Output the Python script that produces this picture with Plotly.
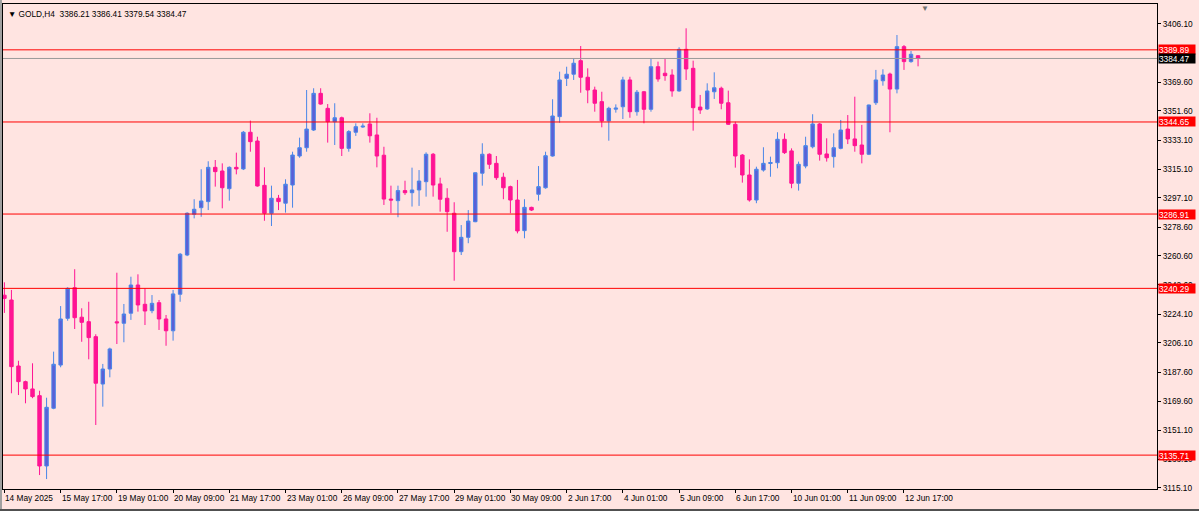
import plotly.graph_objects as go

# ---- data (GOLD, H4) ----
open_ = [3236.0, 3233.0, 3191.6, 3181.8, 3177.2, 3173.0, 3128.9, 3165.1, 3192.2, 3221.5,
         3240.7, 3222.2, 3219.4, 3210.0, 3180.3, 3189.7, 3219.3, 3218.4, 3224.7, 3242.4,
         3230.3, 3226.3, 3231.3, 3221.1, 3213.7, 3236.6, 3261.2, 3286.8, 3290.9, 3294.7,
         3316.2, 3313.9, 3302.8, 3316.2, 3315.2, 3338.2, 3332.7, 3304.9, 3287.4, 3296.8,
         3293.7, 3305.1, 3323.3, 3328.5, 3339.6, 3362.6, 3353.2, 3344.8, 3347.3, 3328.1,
         3338.2, 3341.5, 3343.4, 3336.5, 3323.8, 3296.3, 3295.3, 3301.6, 3300.3, 3302.0,
         3307.2, 3324.4, 3305.8, 3296.8, 3287.4, 3263.3, 3272.3, 3282.1, 3312.5, 3324.4,
         3318.7, 3310.0, 3304.1, 3295.7, 3276.5, 3291.1, 3299.3, 3303.4, 3323.3, 3348.0,
         3372.0, 3374.6, 3383.1, 3372.7, 3364.7, 3357.4, 3345.3, 3352.7, 3354.2, 3371.0,
         3351.1, 3363.6, 3352.6, 3379.3, 3375.2, 3374.1, 3364.1, 3390.2, 3378.3, 3354.0,
         3352.8, 3363.6, 3365.8, 3356.7, 3343.2, 3323.9, 3311.4, 3295.7, 3314.5, 3318.6,
         3319.1, 3333.8, 3326.5, 3306.2, 3317.0, 3329.1, 3343.4, 3324.6, 3322.9, 3328.1,
         3340.2, 3334.0, 3330.2, 3324.4, 3356.7, 3370.5, 3374.7, 3365.3, 3391.9, 3382.5,
         3386.21]
high = [3244.1, 3239.3, 3194.9, 3182.4, 3193.3, 3176.1, 3171.7, 3200.6, 3229.2, 3241.0,
        3252.3, 3227.8, 3231.9, 3211.5, 3192.9, 3203.1, 3250.1, 3230.5, 3247.6, 3249.1,
        3240.3, 3236.1, 3233.0, 3223.6, 3239.3, 3262.5, 3288.0, 3296.2, 3315.0, 3320.0,
        3320.8, 3318.7, 3316.8, 3325.4, 3339.0, 3345.5, 3335.4, 3316.2, 3304.7, 3298.9,
        3308.7, 3326.0, 3334.8, 3364.7, 3365.8, 3365.8, 3355.9, 3356.4, 3348.0, 3339.5,
        3343.8, 3343.8, 3350.1, 3347.3, 3329.1, 3304.7, 3304.7, 3307.8, 3316.0, 3314.5,
        3325.6, 3325.2, 3309.7, 3303.1, 3294.3, 3280.0, 3289.4, 3313.0, 3331.3, 3325.0,
        3323.3, 3312.8, 3304.7, 3308.3, 3296.2, 3291.5, 3317.0, 3326.0, 3358.9, 3376.2,
        3379.3, 3384.6, 3392.3, 3378.3, 3366.8, 3363.6, 3354.2, 3355.7, 3373.0, 3373.0,
        3364.7, 3364.1, 3384.6, 3382.5, 3384.6, 3377.7, 3391.5, 3403.4, 3383.1, 3361.6,
        3368.9, 3375.8, 3366.8, 3364.3, 3344.8, 3324.5, 3321.2, 3316.6, 3328.8, 3322.9,
        3338.2, 3337.5, 3328.1, 3319.8, 3335.4, 3349.5, 3344.0, 3334.4, 3337.5, 3345.9,
        3349.0, 3360.5, 3342.8, 3355.5, 3377.3, 3377.7, 3375.6, 3399.2, 3392.9, 3389.2,
        3386.41]
low = [3224.9, 3174.5, 3173.4, 3168.2, 3171.4, 3123.2, 3120.7, 3164.5, 3190.8, 3220.0,
       3214.8, 3206.8, 3195.8, 3154.6, 3166.1, 3184.5, 3205.4, 3206.5, 3220.5, 3225.7,
       3217.3, 3224.7, 3214.2, 3204.3, 3207.5, 3231.9, 3260.5, 3284.2, 3285.2, 3289.4,
       3304.1, 3290.5, 3295.3, 3311.8, 3314.5, 3326.0, 3304.1, 3282.7, 3279.4, 3289.4,
       3287.8, 3290.9, 3322.2, 3326.0, 3339.0, 3355.5, 3331.7, 3330.2, 3323.3, 3326.0,
       3335.9, 3341.0, 3331.7, 3316.2, 3292.6, 3287.4, 3284.9, 3298.9, 3291.6, 3292.0,
       3297.8, 3297.8, 3288.4, 3275.8, 3245.1, 3261.2, 3268.6, 3281.8, 3304.7, 3315.2,
       3308.3, 3296.2, 3287.4, 3274.8, 3271.7, 3288.8, 3295.3, 3302.8, 3322.9, 3344.2,
       3367.2, 3371.0, 3363.0, 3356.4, 3351.1, 3341.3, 3332.9, 3350.5, 3346.5, 3347.3,
       3348.6, 3343.8, 3351.1, 3369.9, 3370.5, 3360.5, 3363.6, 3371.0, 3339.2, 3349.7,
       3352.2, 3359.1, 3352.6, 3342.8, 3316.0, 3306.6, 3294.7, 3293.7, 3313.5, 3310.3,
       3315.6, 3324.6, 3303.1, 3301.6, 3315.6, 3328.1, 3320.4, 3319.8, 3316.0, 3327.5,
       3330.8, 3326.0, 3318.7, 3323.9, 3355.3, 3367.4, 3338.2, 3362.6, 3377.3, 3381.8,
       3379.54]
close = [3234.0, 3191.2, 3181.8, 3177.2, 3172.4, 3128.9, 3165.7, 3192.7, 3221.1, 3240.3,
         3221.9, 3219.0, 3209.4, 3180.8, 3189.7, 3202.3, 3218.7, 3224.2, 3242.4, 3229.9,
         3226.1, 3230.9, 3221.1, 3213.7, 3236.8, 3261.7, 3287.4, 3289.9, 3295.1, 3316.2,
         3313.5, 3303.4, 3316.2, 3315.2, 3338.2, 3332.3, 3304.5, 3287.4, 3296.8, 3294.7,
         3305.6, 3323.9, 3328.5, 3340.2, 3362.6, 3355.9, 3344.8, 3347.3, 3328.1, 3338.6,
         3341.7, 3342.0, 3336.0, 3323.3, 3296.3, 3295.7, 3301.6, 3300.3, 3302.0, 3307.6,
         3324.4, 3305.1, 3296.2, 3288.4, 3263.3, 3272.3, 3282.5, 3312.8, 3324.4, 3318.1,
         3309.7, 3303.4, 3295.7, 3276.3, 3291.1, 3289.4, 3304.1, 3323.5, 3348.4, 3371.0,
         3374.6, 3381.5, 3372.7, 3364.7, 3356.4, 3345.3, 3353.2, 3353.3, 3371.0, 3351.1,
         3363.3, 3352.6, 3379.3, 3371.6, 3373.7, 3364.1, 3390.2, 3377.9, 3353.6, 3352.2,
         3364.1, 3366.1, 3356.4, 3343.2, 3323.3, 3311.4, 3295.7, 3315.0, 3318.7, 3319.2,
         3333.8, 3325.4, 3306.2, 3318.1, 3329.8, 3343.4, 3324.4, 3322.2, 3328.5, 3339.6,
         3334.0, 3329.8, 3324.4, 3355.3, 3371.0, 3374.1, 3365.3, 3391.9, 3382.5, 3387.1,
         3384.47]

x_tick_labels = ["14 May 2025", "15 May 17:00", "19 May 01:00", "20 May 09:00",
                 "21 May 17:00", "23 May 01:00", "26 May 09:00", "27 May 17:00",
                 "29 May 01:00", "30 May 09:00", "2 Jun 17:00", "4 Jun 01:00",
                 "5 Jun 09:00", "6 Jun 17:00", "10 Jun 01:00", "11 Jun 09:00",
                 "12 Jun 17:00"]
bars_per_label = 8

y_tick_values = [3406.10, 3369.60, 3351.60, 3333.10, 3315.10, 3297.10, 3278.60,
                 3260.60, 3242.60, 3224.10, 3206.10, 3187.60, 3169.60, 3151.10, 3133.10,
                 3115.10]

level_prices = [3389.89, 3344.65, 3286.91, 3240.29, 3135.71]

symbol = "GOLD,H4"

# ---- styling ----
BG = "#ffe4e1"
FONT = "Liberation Sans, Arial, sans-serif"
FS = 8.3
W, H = 1199, 511
ML, MR, MT, MB = 3, 42, 4, 22
PW, PH = W - ML - MR, H - MT - MB
bars = list(range(len(open_)))
bid = close[-1]

fig = go.Figure()
fig.add_trace(go.Candlestick(
    x=bars, open=open_, high=high, low=low, close=close,
    increasing=dict(line=dict(color="#4a86e8", width=1), fillcolor="#5b5fd6"),
    decreasing=dict(line=dict(color="#ff1493", width=1), fillcolor="#ff1493"),
    whiskerwidth=0, showlegend=False, hoverinfo="skip",
))

shapes = []
for lv in level_prices:
    shapes.append(dict(type="line", xref="paper", x0=0, x1=1, yref="y", y0=lv, y1=lv,
                       line=dict(color="#ff0000", width=1), layer="above"))
shapes.append(dict(type="line", xref="paper", x0=0, x1=1, yref="y", y0=bid, y1=bid,
                   line=dict(color="#9a9a9a", width=1), layer="above"))
# window frame (left gray stripe, bottom dark edge)
shapes.append(dict(type="rect", xref="paper", yref="paper",
                   x0=-3 / PW, x1=-1 / PW, y0=-MB / PH, y1=1 + MT / PH,
                   fillcolor="#a0a0a0", line=dict(width=0), layer="above"))
shapes.append(dict(type="rect", xref="paper", yref="paper",
                   x0=-3 / PW, x1=1 + MR / PW, y0=-MB / PH, y1=-(MB - 2) / PH,
                   fillcolor="#505050", line=dict(width=0), layer="above"))

annotations = []
for lv in level_prices:
    annotations.append(dict(xref="paper", x=1, xanchor="left", xshift=1, yref="y", y=lv,
                            text=f"{lv:.2f}", showarrow=False, bgcolor="#ff0000",
                            font=dict(family=FONT, size=FS, color="white"),
                            width=36, height=9, borderpad=0, align="left"))
annotations.append(dict(xref="paper", x=1, xanchor="left", xshift=1, yref="y", y=bid,
                        text=f"{bid:.2f}", showarrow=False, bgcolor="#000000",
                        font=dict(family=FONT, size=FS, color="white"),
                        width=36, height=9, borderpad=0, align="left"))

tick_pos = [k * bars_per_label for k in range(len(x_tick_labels))]
for pos, lab in zip(tick_pos, x_tick_labels):
    annotations.append(dict(xref="x", x=pos, yref="paper", y=0, yanchor="top", xanchor="left",
                            yshift=-2, xshift=-1, text=lab, showarrow=False,
                            font=dict(family=FONT, size=FS, color="black")))

header = "▼ " + symbol + "\u00a0 " + " ".join(
    f"{v:.2f}" for v in (open_[-1], high[-1], low[-1], close[-1]))
annotations.append(dict(xref="paper", x=0, xanchor="left", xshift=3, yref="paper", y=1,
                        yanchor="top", yshift=-3, text=header, showarrow=False,
                        font=dict(family=FONT, size=FS, color="black")))
annotations.append(dict(xref="paper", x=(925 - ML) / PW, xanchor="center", yref="paper",
                        y=1, yanchor="top", yshift=2, text="▼", showarrow=False,
                        font=dict(family=FONT, size=8, color="#707070")))

fig.update_layout(
    width=W, height=H, autosize=False,
    margin=dict(l=ML, r=MR, t=MT, b=MB),
    paper_bgcolor=BG, plot_bgcolor=BG,
    shapes=shapes, annotations=annotations,
    xaxis=dict(range=[-0.2, 164.0], tickvals=tick_pos, showticklabels=False,
               ticks="outside", ticklen=3, tickcolor="black", showline=True,
               linecolor="black", linewidth=1, mirror=True, showgrid=False,
               zeroline=False, rangeslider=dict(visible=False), fixedrange=True),
    yaxis=dict(side="right", range=[3114.46, 3418.64], tickvals=y_tick_values,
               ticktext=[f"{v:.2f}" for v in y_tick_values], ticks="outside", ticklen=3,
               tickcolor="black", showline=True, linecolor="black", linewidth=1,
               mirror=True, showgrid=False, zeroline=False,
               tickfont=dict(family=FONT, size=FS, color="black"), fixedrange=True),
    font=dict(family=FONT, size=FS, color="black"),
)

fig.write_html("out.html", config={"displayModeBar": False},
               post_script="document.body.style.margin='0';")
